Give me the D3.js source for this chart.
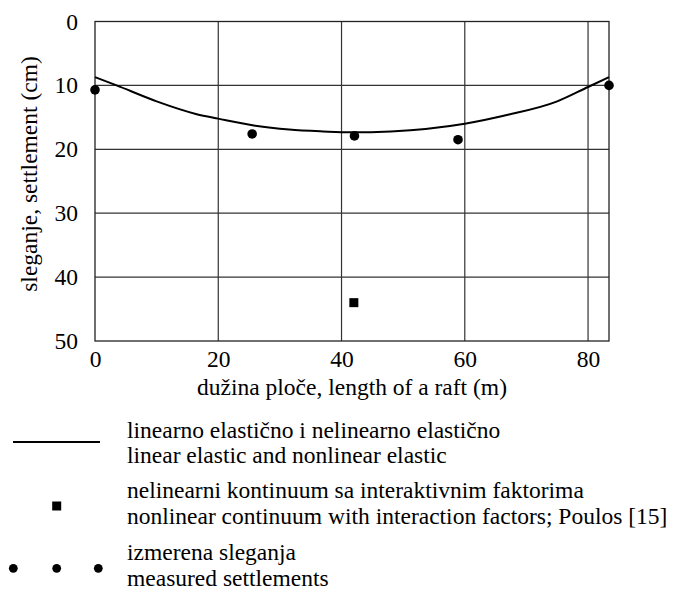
<!DOCTYPE html>
<html><head><meta charset="utf-8">
<script src="https://cdn.jsdelivr.net/npm/d3@7"></script>
<style>
html,body{margin:0;padding:0;background:#fff;}
</style></head>
<body>
<svg id="chart" width="679" height="593"></svg>
<script>
// Data
const xTicks = [0, 20, 40, 60, 80];
const yTicks = [0, 10, 20, 30, 40, 50];
const curveX = [0, 3.5, 10, 16.5, 20, 26, 31.5, 37, 41.5, 48, 60, 67, 75, 80, 83.4];
const curveY = [8.7, 10.0, 12.5, 14.5, 15.2, 16.3, 16.9, 17.2, 17.35, 17.2, 16.0, 14.6, 12.5, 10.25, 8.7];
const measuredX = [0, 25.5, 42.1, 58.9, 83.4];
const measuredY = [10.7, 17.6, 17.9, 18.5, 10.0];
const poulosX = [42];
const poulosY = [44];
const xTitle = "dužina ploče, length of a raft (m)";
const yTitle = "sleganje, settlement (cm)";
const legendLabels = [
  ["linearno elastično i nelinearno elastično", "linear elastic and nonlinear elastic"],
  ["nelinearni kontinuum sa interaktivnim faktorima", "nonlinear continuum with interaction factors; Poulos [15]"],
  ["izmerena sleganja", "measured settlements"]
];

const FONT = "Liberation Serif";
const FS = 23.5;
const svg = d3.select("#chart");
const x = d3.scaleLinear().domain([0, 83.4]).range([95, 609]);
const y = d3.scaleLinear().domain([0, 50]).range([21.5, 341]);

// grid
const g = svg.append("g");
g.selectAll("line.vg").data(xTicks.filter(d => d > 0)).enter().append("line")
  .attr("x1", d => x(d)).attr("x2", d => x(d)).attr("y1", y(0)).attr("y2", y(50))
  .attr("stroke", "#333").attr("stroke-width", 1.2);
g.selectAll("line.hg").data(yTicks.filter(d => d > 0 && d < 50)).enter().append("line")
  .attr("x1", x(0)).attr("x2", x(83.4)).attr("y1", d => y(d)).attr("y2", d => y(d))
  .attr("stroke", "#333").attr("stroke-width", 1.2);
g.append("rect").attr("x", x(0)).attr("y", y(0)).attr("width", x(83.4) - x(0)).attr("height", y(50) - y(0))
  .attr("fill", "none").attr("stroke", "#222").attr("stroke-width", 1.3);

// axes tick labels
const yAxis = d3.axisLeft(y).tickValues(yTicks).tickSize(0).tickPadding(17);
svg.append("g").attr("transform", `translate(${x(0)},0)`).call(yAxis)
  .attr("font-family", FONT)
  .call(s => s.select(".domain").remove())
  .selectAll("text").attr("font-size", FS).attr("font-family", FONT).attr("fill", "#000");
const xAxis = d3.axisBottom(x).tickValues(xTicks).tickSize(0).tickPadding(9);
svg.append("g").attr("transform", `translate(0,${y(50)})`).call(xAxis)
  .attr("font-family", FONT)
  .call(s => s.select(".domain").remove())
  .selectAll("text").attr("font-size", FS).attr("font-family", FONT).attr("fill", "#000");

// titles
svg.append("text").attr("x", (x(0) + x(83.4)) / 2).attr("y", 395).attr("text-anchor", "middle")
  .attr("font-family", FONT).attr("font-size", FS).text(xTitle);
svg.append("text").attr("transform", "translate(37,174) rotate(-90)").attr("text-anchor", "middle")
  .attr("font-family", FONT).attr("font-size", FS).text(yTitle);

// curve
const curveData = curveX.map((d, i) => [d, curveY[i]]);
svg.append("path").datum(curveData)
  .attr("d", d3.line().x(d => x(d[0])).y(d => y(d[1])).curve(d3.curveMonotoneX))
  .attr("fill", "none").attr("stroke", "#000").attr("stroke-width", 2);

// measured points
svg.selectAll("circle.m").data(measuredX.map((d, i) => [d, measuredY[i]])).enter().append("circle")
  .attr("cx", d => x(d[0])).attr("cy", d => y(d[1])).attr("r", 4.8).attr("fill", "#000");

// poulos
const sq = 9;
svg.selectAll("rect.p").data(poulosX.map((d, i) => [d, poulosY[i]])).enter().append("rect")
  .attr("x", d => x(d[0]) - sq / 2).attr("y", d => y(d[1]) - sq / 2).attr("width", sq).attr("height", sq).attr("fill", "#000");

// legend
const leg = svg.append("g");
leg.append("line").attr("x1", 13).attr("x2", 100).attr("y1", 442).attr("y2", 442).attr("stroke", "#000").attr("stroke-width", 2);
leg.append("rect").attr("x", 56.7 - 4.5).attr("y", 506 - 4.5).attr("width", 9).attr("height", 9).attr("fill", "#000");
leg.selectAll("circle").data([13.3, 56.7, 98.3]).enter().append("circle")
  .attr("cx", d => d).attr("cy", 568.3).attr("r", 4.4).attr("fill", "#000");
const baselines = [[438, 463], [498, 524], [560, 586]];
legendLabels.forEach((pair, i) => {
  pair.forEach((t, j) => {
    leg.append("text").attr("x", 127).attr("y", baselines[i][j]).attr("font-size", FS)
      .attr("font-family", FONT).text(t);
  });
});
</script>
</body></html>
